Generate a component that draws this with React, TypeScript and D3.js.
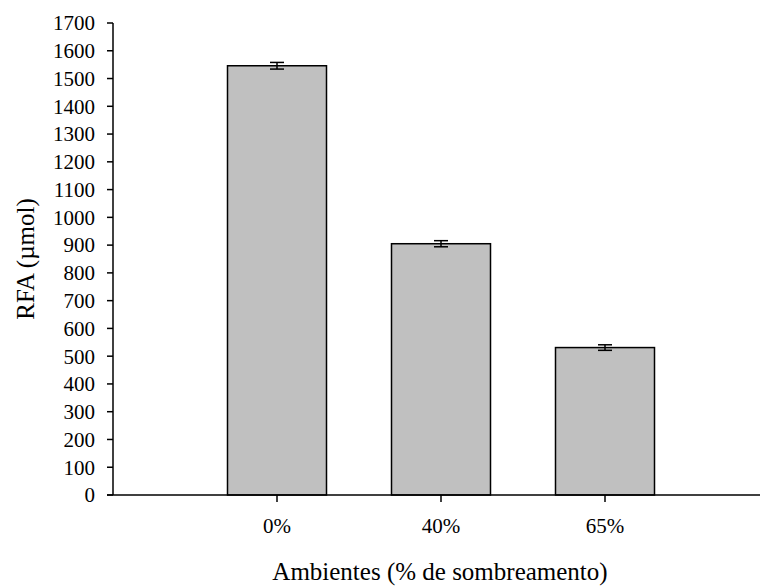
import React from "react";
import * as d3 from "d3";

const categories = ["0%", "40%", "65%"];
const values = [1546, 905, 531];
const errors = [12, 11, 10];
const yTicks = d3.range(0, 1800, 100);

export default function App() {
  const W = 761, H = 588;
  const x0 = 113, y0 = 495, yTop = 23;
  const y = d3.scaleLinear().domain([0, 1700]).range([y0, yTop]);
  const x = d3.scaleLinear().domain([0, 4]).range([x0, x0 + 4 * 164]);
  const bw = 99;
  const font = "'Liberation Serif', 'Times New Roman', serif";
  return (
    <svg width={W} height={H} style={{ position: "absolute", left: 0, top: 0, background: "#fff" }} fontFamily={font}>
      {categories.map((c, i) => {
        const cx = x(i + 1);
        return (
          <g key={c}>
            <rect x={cx - bw / 2} y={y(values[i])} width={bw} height={y0 - y(values[i])} fill="#c0c0c0" stroke="#000" strokeWidth={1.5} />
            <line x1={cx} x2={cx} y1={y(values[i] + errors[i])} y2={y(values[i] - errors[i])} stroke="#000" strokeWidth={1.5} />
            <line x1={cx - 7} x2={cx + 7} y1={y(values[i] + errors[i])} y2={y(values[i] + errors[i])} stroke="#000" strokeWidth={1.5} />
            <line x1={cx - 7} x2={cx + 7} y1={y(values[i] - errors[i])} y2={y(values[i] - errors[i])} stroke="#000" strokeWidth={1.5} />
            <line x1={cx} x2={cx} y1={y0} y2={y0 + 7} stroke="#000" strokeWidth={1.5} />
            <text x={cx} y={533} textAnchor="middle" fontSize={21}>{c}</text>
          </g>
        );
      })}
      <line x1={x0} x2={x0} y1={yTop} y2={y0} stroke="#000" strokeWidth={1.5} />
      <line x1={x0 - 6} x2={760} y1={y0} y2={y0} stroke="#000" strokeWidth={1.5} />
      {yTicks.map((t) => (
        <g key={t}>
          <line x1={x0 - 6} x2={x0} y1={y(t)} y2={y(t)} stroke="#000" strokeWidth={1.5} />
          <text x={95} y={y(t)} dy="0.35em" textAnchor="end" fontSize={21}>{t}</text>
        </g>
      ))}
      <text transform={`translate(34,${(y0 + yTop) / 2}) rotate(-90)`} textAnchor="middle" fontSize={25}>RFA (µmol)</text>
      <text x={440} y={580} textAnchor="middle" fontSize={25}>Ambientes (% de sombreamento)</text>
    </svg>
  );
}
